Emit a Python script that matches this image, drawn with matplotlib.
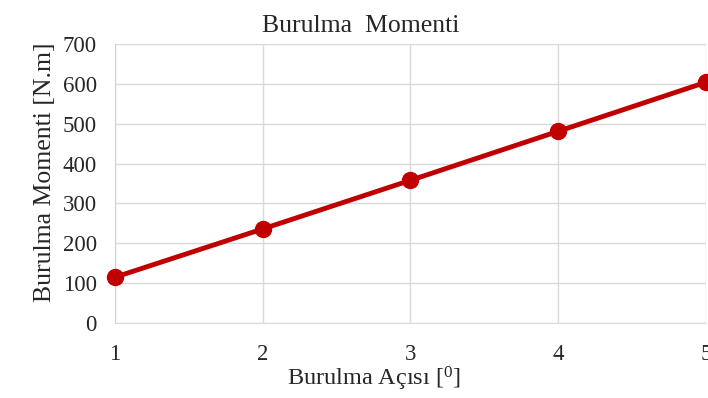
import matplotlib.pyplot as plt

# burulma açısı [derece] ve moment [N.m]
aci = [1, 2, 3, 4, 5]
moment = [115, 236, 358, 481, 604]
y_ticks = [0, 100, 200, 300, 400, 500, 600, 700]

plt.rcParams['font.family'] = ['Liberation Serif', 'DejaVu Serif']
plt.rcParams['mathtext.fontset'] = 'custom'
plt.rcParams['mathtext.rm'] = 'Liberation Serif'

fig = plt.figure(figsize=(7.08, 3.98), dpi=100)
ax = fig.add_axes([0.1624, 0.1884, 0.8346, 0.701])

ax.plot(aci, moment, color='#C00000', linewidth=3.5, marker='o',
        markersize=11.5, clip_on=False, zorder=3)

ax.set_xlim(1, 5)
ax.set_ylim(0, 700)
ax.set_xticks(aci)
ax.set_yticks(y_ticks)
ax.grid(True, color='#D9D9D9', linewidth=1.0)
ax.set_axisbelow(True)

for side in ['top', 'right']:
    ax.spines[side].set_visible(False)
ax.spines['left'].set_color('#BDD7EE')
ax.spines['bottom'].set_color('#D0DCE8')
ax.tick_params(length=0, labelsize=16.5, colors='#262626')
ax.tick_params(axis='x', pad=15)
ax.tick_params(axis='y', pad=13)

# başlık ve eksen etiketleri grafik alanının ortasından biraz kaydırılmış
ax.set_title('Burulma  Momenti', fontsize=18.5, color='#262626', pad=9, x=0.415)
ax.set_xlabel('Burulma Açısı [$\\mathrm{^0}$]', fontsize=17.5, color='#262626',
              labelpad=0, x=0.438)
ax.set_ylabel('Burulma Momenti [N.m]', fontsize=18.5, color='#262626',
              labelpad=5, y=0.54)

fig.savefig('out.png', dpi=100)
